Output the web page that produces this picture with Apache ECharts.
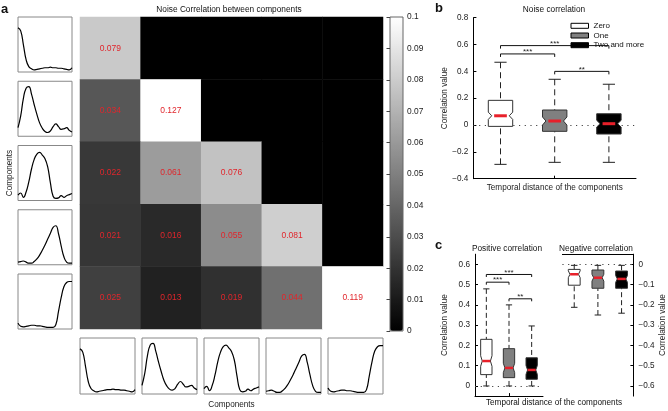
<!DOCTYPE html>
<html>
<head>
<meta charset="utf-8">
<script src="https://cdn.jsdelivr.net/npm/echarts@6.0.0/dist/echarts.min.js"></script>
<style>
html,body{margin:0;padding:0;background:#fff}
#main{width:668px;height:411px}
</style>
</head>
<body>
<div id="main"></div>
<script>
var FONT = '"Liberation Sans", Arial, Helvetica, sans-serif';

// panel a
var components = ['1', '2', '3', '4', '5'];
var noiseCorr = [
	[0.079],
	[0.034, 0.127],
	[0.022, 0.061, 0.076],
	[0.021, 0.016, 0.055, 0.081],
	[0.025, 0.013, 0.019, 0.044, 0.119]
];
// component waveforms, read at 21 evenly spaced samples
var compA = [0.80, 0.74, 0.48, 0.20, 0.07, 0.03, 0.01, 0.02, 0.03, 0.04, 0.05, 0.05, 0.06, 0.05, 0.05, 0.04, 0.04, 0.03, 0.02, 0.01, 0.05];
var compB = [0.13, 0.35, 0.68, 0.87, 0.90, 0.76, 0.56, 0.38, 0.22, 0.12, 0.06, 0.04, 0.07, 0.15, 0.20, 0.15, 0.10, 0.11, 0.13, 0.08, 0.05];
var compC = [0.07, 0.11, 0.03, 0.13, 0.32, 0.56, 0.74, 0.84, 0.87, 0.82, 0.75, 0.60, 0.30, 0.05, 0.01, 0.02, 0.06, 0.03, 0.06, 0.08, 0.10];
var compD = [0.02, 0.03, 0.04, 0.02, 0.00, 0.00, 0.03, 0.08, 0.15, 0.24, 0.34, 0.45, 0.56, 0.67, 0.70, 0.55, 0.32, 0.12, 0.02, 0.00, 0.00];
var compE = [0.08, 0.02, 0.01, 0.02, 0.03, 0.04, 0.04, 0.03, 0.03, 0.02, 0.01, 0.00, 0.00, 0.00, 0.05, 0.30, 0.56, 0.76, 0.84, 0.86, 0.86];
var compCurves = [compA, compB, compC, compD, compE];

// panel b: [lower whisker, q1, median, q3, upper whisker]
var groups = ['Zero', 'One', 'Two and more'];
var bZero = [-0.293, -0.010, 0.069, 0.184, 0.468];
var bOne = [-0.278, -0.047, 0.030, 0.112, 0.341];
var bTwo = [-0.278, -0.067, 0.010, 0.084, 0.304];
var bNotch = [0.027, 0.030, 0.025];
var bSig = [[1, 3, 0.592], [1, 2, 0.530], [2, 3, 0.400]];
var bSigText = ['***', '***', '**'];

// panel c
var cPosZero = [0, 0.056, 0.123, 0.230, 0.479];
var cPosOne = [0, 0.041, 0.089, 0.184, 0.400];
var cPosTwo = [0, 0.033, 0.079, 0.139, 0.296];
var cPosNotch = [0.026, 0.023, 0.022];
var cPosSig = [[1, 3, 0.550], [1, 2, 0.512], [2, 3, 0.430]];
var cPosSigText = ['***', '***', '**'];
var cNegZero = [-0.212, -0.103, -0.049, -0.025, -0.005];
var cNegOne = [-0.250, -0.118, -0.066, -0.028, -0.005];
var cNegTwo = [-0.241, -0.118, -0.072, -0.033, -0.005];
var cNegNotch = [0.017, 0.017, 0.017];
var cPosTicks = [0, 0.1, 0.2, 0.3, 0.4, 0.5, 0.6];
var cNegTicks = [-0.6, -0.5, -0.4, -0.3, -0.2, -0.1, 0];

var groupFill = ['#ffffff', '#808080', '#000000'];

function fmt1(v){
	return String(Math.round(v * 10) / 10).replace('-', '\u2212');
}

function makeBoxRender(fill, cfg){
	return function(params, api){
		var x = api.value(0);
		var med = api.value(3), notch = api.value(6);
		var cx = api.coord([x, med])[0];
		var yLo = api.coord([x, api.value(1)])[1];
		var yQ1 = api.coord([x, api.value(2)])[1];
		var yMed = api.coord([x, med])[1];
		var yQ3 = api.coord([x, api.value(4)])[1];
		var yHi = api.coord([x, api.value(5)])[1];
		var yNh = api.coord([x, med + notch])[1];
		var yNl = api.coord([x, med - notch])[1];
		var w = api.size([1, 0])[0] * cfg.box;
		var L = cx - w / 2, R = cx + w / 2, ind = w * cfg.indent;
		var cw = w * cfg.cap / 2, mw = w * cfg.med / 2;
		var pts = [[L, yQ3], [R, yQ3], [R, yNh], [R - ind, yMed], [R, yNl], [R, yQ1], [L, yQ1], [L, yNl], [L + ind, yMed], [L, yNh]];
		return {
			type: 'group',
			children: [
				{type: 'line', shape: {x1: cx, y1: yHi, x2: cx, y2: yQ3}, style: {stroke: '#222', lineWidth: 1, lineDash: cfg.dash}},
				{type: 'line', shape: {x1: cx, y1: yLo, x2: cx, y2: yQ1}, style: {stroke: '#222', lineWidth: 1, lineDash: cfg.dash}},
				{type: 'line', shape: {x1: cx - cw, y1: yHi, x2: cx + cw, y2: yHi}, style: {stroke: '#222', lineWidth: 1}},
				{type: 'line', shape: {x1: cx - cw, y1: yLo, x2: cx + cw, y2: yLo}, style: {stroke: '#222', lineWidth: 1}},
				{type: 'polygon', shape: {points: pts}, style: {fill: fill, stroke: '#333', lineWidth: 1}},
				{type: 'line', shape: {x1: cx - mw, y1: yMed, x2: cx + mw, y2: yMed}, style: {stroke: '#e8202a', lineWidth: cfg.medW}}
			]
		};
	};
}

function makeBracketRender(labels, tick){
	return function(params, api){
		var p1 = api.coord([api.value(0), api.value(2)]);
		var p2 = api.coord([api.value(1), api.value(2)]);
		return {
			type: 'group',
			children: [
				{type: 'polyline', shape: {points: [[p1[0], p1[1] + tick], [p1[0], p1[1]], [p2[0], p2[1]], [p2[0], p2[1] + tick]]},
					style: {stroke: '#111', fill: 'none', lineWidth: 1}},
				{type: 'text', x: (p1[0] + p2[0]) / 2, y: p1[1] + 2,
					style: {text: labels[params.dataIndex], textAlign: 'center', textVerticalAlign: 'bottom', font: '8px ' + FONT, fill: '#222'}}
			]
		};
	};
}

function boxSeries(name, gi, stats, notch, pos, fill, cfg){
	return {
		type: 'custom', name: name, xAxisIndex: gi, yAxisIndex: gi, z: 3,
		data: [[pos].concat(stats).concat([notch])],
		encode: {x: 0, y: [1, 2, 3, 4, 5]},
		renderItem: makeBoxRender(fill, cfg)
	};
}

// dotted line at zero
function zeroLine(){
	return {
		silent: true, z: 1, symbol: ['none', 'none'], label: {show: false},
		lineStyle: {color: '#444', type: [1.2, 4.5], width: 1},
		data: [{yAxis: 0}], animation: false
	};
}

var myChart = echarts.init(document.getElementById('main'));

var heatData = [];
for (var i = 0; i < 5; i++) {
	for (var j = 0; j < 5; j++) {
		if (j <= i) heatData.push([j, i, noiseCorr[i][j]]);
		else heatData.push({value: [j, i, 0], label: {show: false}});
	}
}
var sampleIdx = compA.map(function(v, k){ return k; });

var axisTxt = {fontSize: 8.2, color: '#222', fontFamily: FONT};
var blackLine = {show: true, onZero: false, lineStyle: {color: '#000', width: 1}};

var grids = [
	{left: 80, top: 17, width: 303, height: 312},
	{left: 390, top: 17, width: 13, height: 314, show: true, borderColor: '#666', borderWidth: 1, z: 10}
];
var xAxes = [
	{type: 'category', gridIndex: 0, data: components, axisLine: {show: false}, axisTick: {show: false}, axisLabel: {show: false},
		name: 'Components', nameLocation: 'middle', nameGap: 72, nameTextStyle: axisTxt},
	{type: 'value', gridIndex: 1, show: false}
];
var yAxes = [
	{type: 'category', gridIndex: 0, data: components, inverse: true, axisLine: {show: false}, axisTick: {show: false}, axisLabel: {show: false},
		name: 'Components', nameLocation: 'middle', nameGap: 66, nameRotate: 90, nameTextStyle: axisTxt},
	{type: 'value', gridIndex: 1, min: 0, max: 0.1, interval: 0.01, position: 'right', z: 11,
		axisLine: {show: false}, splitLine: {show: false},
		axisTick: {show: true, inside: true, length: 3.5, lineStyle: {color: '#444'}},
		axisLabel: {margin: 4, fontSize: 8.4, color: '#222', formatter: function(v){ return String(Math.round(v * 100) / 100); }}}
];
var series = [{
	type: 'heatmap', xAxisIndex: 0, yAxisIndex: 0, data: heatData,
	emphasis: {disabled: true},
	label: {show: true, color: '#e0262c', fontSize: 8.5, fontFamily: FONT,
		formatter: function(p){ return p.value[2].toFixed(3); }}
}];

var miniLeftTop = [17, 81.25, 145.5, 209.75, 274];
var miniBottomLeft = [80, 142, 204, 266, 328];
for (var k = 0; k < 10; k++) {
	var c = k % 5;
	if (k < 5) grids.push({left: 18, top: miniLeftTop[c], width: 54, height: 55, show: true, borderColor: '#888', borderWidth: 1});
	else grids.push({left: miniBottomLeft[c], top: 338, width: 55, height: 56, show: true, borderColor: '#888', borderWidth: 1});
	xAxes.push({type: 'category', gridIndex: k + 2, data: sampleIdx, boundaryGap: false, show: false});
	yAxes.push({type: 'value', gridIndex: k + 2, min: -0.03, max: 1, show: false});
	series.push({type: 'line', xAxisIndex: k + 2, yAxisIndex: k + 2, data: compCurves[c], smooth: true, symbol: 'none',
		lineStyle: {color: '#000', width: 1.2}});
}

// panel b
grids.push({left: 473.4, top: 17.7, width: 162.6, height: 161});
xAxes.push({type: 'value', gridIndex: 12, min: 0.5, max: 3.5, axisLine: blackLine, splitLine: {show: false},
	axisTick: {show: true, inside: true, length: 3, customValues: [2], lineStyle: {color: '#000'}}, axisLabel: {show: false},
	name: 'Temporal distance of the components', nameLocation: 'middle', nameGap: 5, nameTextStyle: axisTxt});
yAxes.push({type: 'value', gridIndex: 12, min: -0.4, max: 0.8, interval: 0.2, axisLine: blackLine, splitLine: {show: false},
	axisTick: {show: true, inside: true, length: 3, lineStyle: {color: '#000'}},
	axisLabel: {margin: 5, fontSize: 8.2, color: '#222', formatter: fmt1},
	name: 'Correlation value', nameLocation: 'middle', nameGap: 25, nameRotate: 90, nameTextStyle: axisTxt});
var bCfg = {box: 0.45, indent: 0.14, cap: 0.5, med: 0.52, medW: 3, dash: [6, 4]};
series.push({type: 'custom', name: 'sigB', xAxisIndex: 12, yAxisIndex: 12, z: 2, data: bSig,
	renderItem: makeBracketRender(bSigText, 3), markLine: zeroLine()});
series.push(boxSeries(groups[0], 12, bZero, bNotch[0], 1, groupFill[0], bCfg));
series.push(boxSeries(groups[1], 12, bOne, bNotch[1], 2, groupFill[1], bCfg));
series.push(boxSeries(groups[2], 12, bTwo, bNotch[2], 3, groupFill[2], bCfg));

// panel c, positive
var cCfg = {box: 0.5, indent: 0.14, cap: 0.55, med: 0.7, medW: 2.5, dash: [5, 3]};
grids.push({left: 475, top: 254.2, width: 68, height: 141.9});
xAxes.push({type: 'value', gridIndex: 13, min: 0.5, max: 3.5, axisLine: blackLine, splitLine: {show: false},
	axisTick: {show: true, inside: true, length: 3, customValues: [2], lineStyle: {color: '#000'}}, axisLabel: {show: false}});
yAxes.push({type: 'value', gridIndex: 13, min: -0.05, max: 0.65, axisLine: blackLine, splitLine: {show: false},
	axisTick: {show: true, inside: true, length: 3, customValues: cPosTicks, lineStyle: {color: '#000'}},
	axisLabel: {margin: 5, fontSize: 8.2, color: '#222', customValues: cPosTicks, formatter: fmt1},
	name: 'Correlation value', nameLocation: 'middle', nameGap: 26, nameRotate: 90, nameTextStyle: axisTxt});
series.push({type: 'custom', name: 'sigC', xAxisIndex: 13, yAxisIndex: 13, z: 2, data: cPosSig,
	renderItem: makeBracketRender(cPosSigText, 2.5), markLine: zeroLine()});
series.push(boxSeries(groups[0], 13, cPosZero, cPosNotch[0], 1, groupFill[0], cCfg));
series.push(boxSeries(groups[1], 13, cPosOne, cPosNotch[1], 2, groupFill[1], cCfg));
series.push(boxSeries(groups[2], 13, cPosTwo, cPosNotch[2], 3, groupFill[2], cCfg));

// panel c, negative
grids.push({left: 562.4, top: 254.2, width: 71, height: 141.9});
xAxes.push({type: 'value', gridIndex: 14, min: 0.5, max: 3.5, position: 'top', axisLine: blackLine, splitLine: {show: false},
	axisTick: {show: false}, axisLabel: {show: false}});
yAxes.push({type: 'value', gridIndex: 14, min: -0.65, max: 0.05, position: 'right', axisLine: blackLine, splitLine: {show: false},
	axisTick: {show: true, inside: true, length: 3, customValues: cNegTicks, lineStyle: {color: '#000'}},
	axisLabel: {margin: 5, fontSize: 8.2, color: '#222', customValues: cNegTicks, formatter: fmt1},
	name: 'Correlation value', nameLocation: 'middle', nameGap: 24, nameRotate: 90, nameTextStyle: axisTxt});
var negZero = boxSeries(groups[0], 14, cNegZero, cNegNotch[0], 1, groupFill[0], cCfg);
negZero.markLine = zeroLine();
series.push(negZero);
series.push(boxSeries(groups[1], 14, cNegOne, cNegNotch[1], 2, groupFill[1], cCfg));
series.push(boxSeries(groups[2], 14, cNegTwo, cNegNotch[2], 3, groupFill[2], cCfg));

grids.forEach(function(g){ g.outerBoundsMode = 'none'; });

function txt(s, x, y, font, align){
	return {type: 'text', x: x, y: y, silent: true,
		style: {text: s, font: font, fill: '#111', textAlign: align || 'center', textVerticalAlign: 'middle'}};
}

option = {
	animation: false,
	backgroundColor: '#fff',
	textStyle: {fontFamily: FONT},
	grid: grids,
	xAxis: xAxes,
	yAxis: yAxes,
	visualMap: {
		type: 'continuous', seriesIndex: 0, min: 0, max: 0.1, calculable: false, hoverLink: false,
		inRange: {color: ['#000000', '#ffffff']},
		left: 390, top: 17, itemWidth: 13, itemHeight: 314, padding: 0, text: null, showLabel: false
	},
	legend: {
		selectedMode: false, orient: 'vertical', left: 570.5, top: 21.8, padding: 0,
		itemWidth: 17.5, itemHeight: 5, itemGap: 1.7, icon: 'rect',
		textStyle: {fontSize: 8, lineHeight: 5, color: '#111', fontFamily: FONT},
		data: [
			{name: groups[0], itemStyle: {color: groupFill[0], borderColor: '#000', borderWidth: 1}},
			{name: groups[1], itemStyle: {color: groupFill[1], borderColor: '#000', borderWidth: 1}},
			{name: groups[2], itemStyle: {color: groupFill[2], borderColor: '#000', borderWidth: 1}}
		]
	},
	graphic: [
		txt('a', 1, 9, 'bold 13px ' + FONT, 'left'),
		txt('Noise Correlation between components', 229, 10, '8.3px ' + FONT),
		txt('b', 435, 8, 'bold 13px ' + FONT, 'left'),
		txt('Noise correlation', 554, 9.5, '8.3px ' + FONT),
		txt('c', 435, 245, 'bold 13px ' + FONT, 'left'),
		txt('Positive correlation', 507, 249, '8.3px ' + FONT),
		txt('Negative correlation', 596, 248.5, '8.3px ' + FONT),
		txt('Temporal distance of the components', 554, 403, '8.2px ' + FONT)
	],
	series: series
};
myChart.setOption(option);
</script>
</body>
</html>
